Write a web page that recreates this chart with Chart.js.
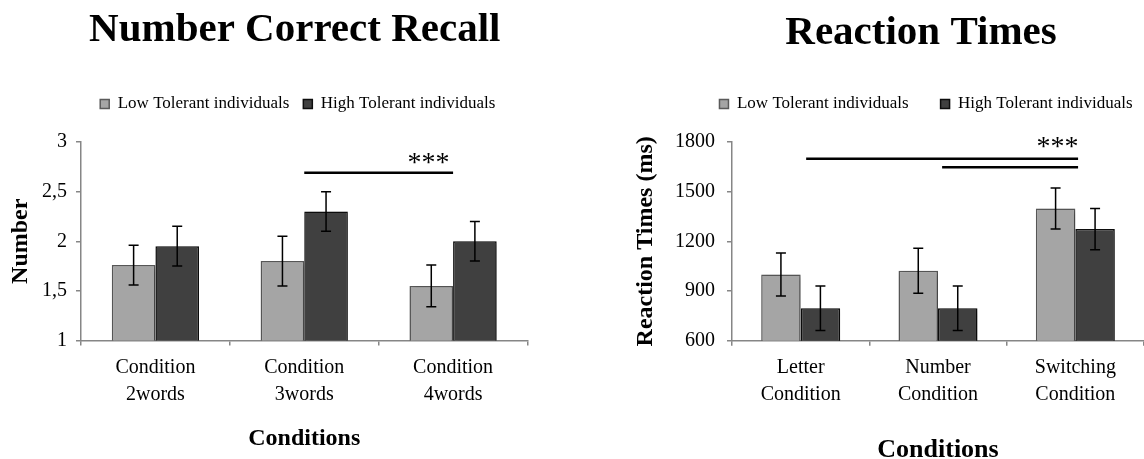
<!DOCTYPE html>
<html>
<head>
<meta charset="utf-8">
<title>Recall and Reaction Times</title>
<script src="https://cdn.jsdelivr.net/npm/chart.js@4.4.1/dist/chart.umd.min.js"></script>
<style>
    html, body { margin: 0; padding: 0; background: #fff; overflow: hidden; }
    #wrap { position: relative; width: 1144px; height: 459px; }
    #recallChart { position: absolute; left: 0; top: 0; }
    #rtChart { position: absolute; left: 560px; top: 0; }
</style>
</head>
<body>
<div id="wrap">
    <canvas id="recallChart" width="560" height="459"></canvas>
    <canvas id="rtChart" width="584" height="459"></canvas>
</div>
<script>
// ==========================================
// DATA
// ==========================================
const seriesNames = ['Low Tolerant individuals', 'High Tolerant individuals'];

// Chart kiri: Number Correct Recall
const recallCategories = [['Condition', '2words'], ['Condition', '3words'], ['Condition', '4words']];
const recallLow = [1.76, 1.80, 1.55];
const recallLowErr = [0.20, 0.25, 0.21];
const recallHigh = [1.95, 2.30, 2.00];
const recallHighErr = [0.20, 0.20, 0.20];
const recallTicks = [1, 1.5, 2, 2.5, 3];
const recallTickLabels = ['1', '1,5', '2', '2,5', '3'];
const recallSigLines = [[1.0, 2.0, 2.69]];   // [dari index, sampai index, nilai y]
const recallStars = [1.835, 2.84];            // [index, nilai y]

// Chart kanan: Reaction Times
const rtCategories = [['Letter', 'Condition'], ['Number', 'Condition'], ['Switching', 'Condition']];
const rtLow = [1000, 1022, 1398];
const rtLowErr = [130, 136, 124];
const rtHigh = [796, 796, 1274];
const rtHighErr = [135, 135, 125];
const rtTicks = [600, 900, 1200, 1500, 1800];
const rtTickLabels = ['600', '900', '1200', '1500', '1800'];
const rtSigLines = [[0.04, 2.02, 1699], [1.03, 2.02, 1647]];
const rtStars = [1.87, 1798];

Chart.defaults.font.family = "'Liberation Serif', 'Times New Roman', serif";
Chart.defaults.color = '#000';

// ==========================================
// PLUGINS
// ==========================================
// tambah jarak antara legend dan area chart
const legendGap = {
    id: 'legendGap',
    beforeInit(chart, args, opts) {
        const fit = chart.legend.fit;
        chart.legend.fit = function () {
            fit.call(this);
            this.height += opts.extra || 0;
        };
    }
};

// geser judul & legend ke kanan (di Excel tidak pas di tengah canvas)
const boxShift = {
    id: 'boxShift',
    afterLayout(chart, args, opts) {
        [[chart.titleBlock, opts.title], [chart.legend, opts.legend]].forEach(([box, dx]) => {
            if (box && dx) {
                box.left += dx;
                box.right += dx;
            }
        });
    }
};

// bayangan lembut di belakang bar (gaya Excel)
const barShadow = {
    id: 'barShadow',
    beforeDatasetsDraw(chart) {
        const ctx = chart.ctx;
        ctx.save();
        ctx.shadowColor = 'rgba(0, 0, 0, 0.3)';
        ctx.shadowBlur = 5;
        ctx.shadowOffsetX = 2;
        ctx.shadowOffsetY = 1;
    },
    afterDatasetsDraw(chart) {
        chart.ctx.restore();
    }
};

const errorBars = {
    id: 'errorBars',
    afterDatasetsDraw(chart) {
        const ctx = chart.ctx;
        const y = chart.scales.y;
        ctx.save();
        ctx.strokeStyle = '#000';
        ctx.lineWidth = 1.5;
        chart.data.datasets.forEach((ds, i) => {
            chart.getDatasetMeta(i).data.forEach((bar, j) => {
                const top = y.getPixelForValue(ds.data[j] + ds.errors[j]);
                const bot = y.getPixelForValue(ds.data[j] - ds.errors[j]);
                ctx.beginPath();
                ctx.moveTo(bar.x, top); ctx.lineTo(bar.x, bot);
                ctx.moveTo(bar.x - 5, top); ctx.lineTo(bar.x + 5, top);
                ctx.moveTo(bar.x - 5, bot); ctx.lineTo(bar.x + 5, bot);
                ctx.stroke();
            });
        });
        ctx.restore();
    }
};

const sigMarks = {
    id: 'sigMarks',
    afterDraw(chart, args, opts) {
        const { ctx, scales: { x, y } } = chart;
        ctx.save();
        ctx.strokeStyle = '#000';
        ctx.lineWidth = 2.5;
        opts.lines.forEach(([a, b, v]) => {
            const py = y.getPixelForValue(v);
            ctx.beginPath();
            ctx.moveTo(x.getPixelForValue(a), py);
            ctx.lineTo(x.getPixelForValue(b), py);
            ctx.stroke();
        });
        ctx.font = "28px 'Liberation Serif'";
        ctx.fillStyle = '#000';
        ctx.textAlign = 'center';
        ctx.textBaseline = 'alphabetic';
        // asterisk duduk tinggi di em-box, geser baseline ke bawah
        ctx.fillText('***', x.getPixelForValue(opts.stars[0]), y.getPixelForValue(opts.stars[1]) + 13);
        ctx.restore();
    }
};

// ==========================================
// CHART BUILDER
// ==========================================
function makeChart(id, cfg) {
    const axisGray = '#868686';
    return new Chart(document.getElementById(id), {
        type: 'bar',
        data: {
            labels: cfg.labels,
            datasets: [
                { label: seriesNames[0], data: cfg.low, errors: cfg.lowErr,
                  backgroundColor: '#a5a5a5', borderColor: '#5a5a5a', borderWidth: 1.5 },
                { label: seriesNames[1], data: cfg.high, errors: cfg.highErr,
                  backgroundColor: '#404040', borderColor: '#0d0d0d', borderWidth: 1.5 }
            ]
        },
        options: {
            responsive: false,
            animation: false,
            devicePixelRatio: 1,
            layout: { padding: cfg.padding },
            datasets: { bar: { categoryPercentage: cfg.catPct, barPercentage: 1 } },
            plugins: {
                title: {
                    display: true, text: cfg.title, color: '#000',
                    font: { size: 41, weight: 'bold', lineHeight: 1.2 },
                    padding: cfg.titlePad
                },
                legend: {
                    labels: {
                        boxWidth: 9, boxHeight: 9, padding: cfg.legendPad,
                        font: { size: 17 }, color: '#000'
                    }
                },
                tooltip: { enabled: false },
                legendGap: { extra: 19.5 },
                boxShift: cfg.shift,
                sigMarks: { lines: cfg.sigLines, stars: cfg.stars }
            },
            scales: {
                x: {
                    grid: { drawOnChartArea: false, offset: true, tickLength: 5, color: axisGray, lineWidth: 1.5 },
                    border: { color: axisGray, width: 1.5 },
                    ticks: { padding: 9, font: { size: 20, lineHeight: 1.325 }, color: '#000', maxRotation: 0, autoSkip: false },
                    title: {
                        display: true, text: 'Conditions', color: '#000',
                        font: { size: cfg.xTitleSize, weight: 'bold', lineHeight: 1.2 },
                        padding: cfg.xTitlePad
                    }
                },
                y: {
                    min: cfg.ticks[0],
                    max: cfg.ticks[cfg.ticks.length - 1],
                    afterBuildTicks: (scale) => { scale.ticks = cfg.ticks.map(v => ({ value: v })); },
                    afterFit: (scale) => { scale.width = cfg.yWidth; },
                    grid: { drawOnChartArea: false, tickLength: 5, color: axisGray, lineWidth: 1.5 },
                    border: { color: axisGray, width: 1.5 },
                    ticks: {
                        padding: cfg.yTickPad, font: { size: 20 }, color: '#000',
                        callback: (v, i) => cfg.tickLabels[i]
                    },
                    title: {
                        display: true, text: cfg.yTitle, color: '#000',
                        font: { size: 24, weight: 'bold', lineHeight: 1.2 },
                        padding: { top: cfg.yTitleTop, bottom: 0 }
                    }
                }
            }
        },
        plugins: [barShadow, errorBars, sigMarks, legendGap, boxShift]
    });
}

window.onload = () => {
    makeChart('recallChart', {
        title: 'Number Correct Recall',
        yTitle: 'Number',
        labels: recallCategories,
        low: recallLow, lowErr: recallLowErr,
        high: recallHigh, highErr: recallHighErr,
        ticks: recallTicks, tickLabels: recallTickLabels,
        sigLines: recallSigLines, stars: recallStars,
        padding: { left: 0, right: 32.5, top: 0, bottom: 0 },
        shift: { title: 31, legend: 34 },
        titlePad: { top: 5.4, bottom: 26.9 },
        legendPad: 14,
        catPct: 0.586,
        yWidth: 81, yTickPad: 9, yTitleTop: 6.6,
        xTitleSize: 24, xTitlePad: { top: 8.1, bottom: 5.6 }
    });

    makeChart('rtChart', {
        title: 'Reaction Times',
        yTitle: 'Reaction Times (ms)',
        labels: rtCategories,
        low: rtLow, lowErr: rtLowErr,
        high: rtHigh, highErr: rtHighErr,
        ticks: rtTicks, tickLabels: rtTickLabels,
        sigLines: rtSigLines, stars: rtStars,
        padding: { left: 0, right: 0, top: 0, bottom: 0 },
        shift: { title: 69, legend: 74 },
        titlePad: { top: 8.4, bottom: 5.9 },
        legendPad: 32,
        catPct: 0.575,
        yWidth: 172, yTickPad: 12, yTitleTop: 71.6,
        xTitleSize: 26, xTitlePad: { top: 17.7, bottom: -6.6 }
    });
};
</script>
</body>
</html>
